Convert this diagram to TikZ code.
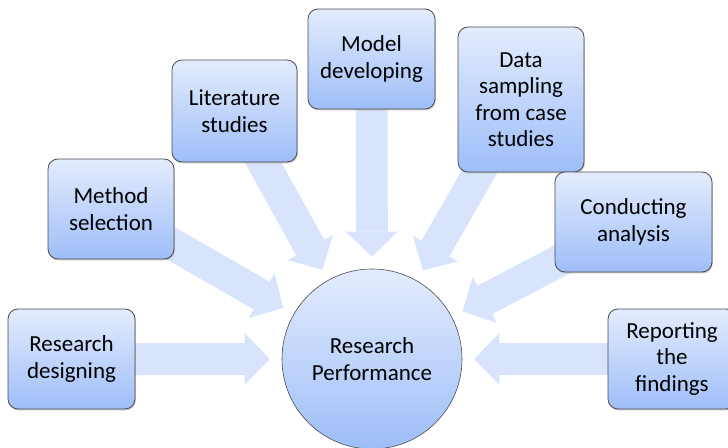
\documentclass[tikz,border=0pt]{standalone}
\usepackage{fontspec}
\setmainfont{Carlito}
\usetikzlibrary{arrows.meta,shadows}
\definecolor{boxtop}{RGB}{227,236,253}
\definecolor{boxbot}{RGB}{158,190,248}
\definecolor{arrfill}{RGB}{216,228,251}
\definecolor{edgegray}{RGB}{75,75,80}
\pgfdeclarelayer{background}
\pgfsetlayers{background,main}

\begin{document}
\begin{tikzpicture}[x=1pt,y=1pt,
  stepbox/.style={draw=edgegray, line width=0.8pt, rounded corners=10pt,
    top color=boxtop, bottom color=boxbot, align=center, inner sep=0pt,
    font=\fontsize{23}{26.5}\selectfont,
    drop shadow={shadow xshift=0.8pt, shadow yshift=-1.5pt, fill=black!40}},
  bigarrow/.style={draw=arrfill, line width=32pt,
    -{Triangle[width=52pt, length=25pt, line width=0pt]}, shorten >=12pt}]
\useasboundingbox (0,0) rectangle (728,447);
% Centre
\node[circle, draw=edgegray, line width=0.6pt, top color=boxtop, bottom color=boxbot,
  minimum size=180pt, align=center, font=\fontsize{23}{26.5}\selectfont]
  (perf) at (372,88) {Research\\Performance};
% Steps
\node[stepbox, minimum width=127pt, minimum height=100pt] (design) at (71.5,88) {Research\\designing};
\node[stepbox, minimum width=126pt, minimum height=100pt] (method) at (111,238) {Method\\selection};
\node[stepbox, minimum width=125pt, minimum height=102pt] (lit) at (234.5,336) {Literature\\studies};
\node[stepbox, minimum width=127pt, minimum height=100pt] (model) at (371.5,388) {Model\\developing};
\node[stepbox, minimum width=126pt, minimum height=145pt] (data) at (521,347.5) {Data\\sampling\\from case\\studies};
\node[stepbox, minimum width=157pt, minimum height=100pt] (analysis) at (633.5,225) {Conducting\\analysis};
\node[stepbox, minimum width=128pt, minimum height=100pt] (report) at (672,88) {Reporting\\the\\findings};
% Arrows
\begin{pgfonlayer}{background}
\foreach \src in {design,method,lit,model,data,analysis,report}
  \draw[bigarrow] (\src.center) -- (perf);
\end{pgfonlayer}
\end{tikzpicture}
\end{document}
